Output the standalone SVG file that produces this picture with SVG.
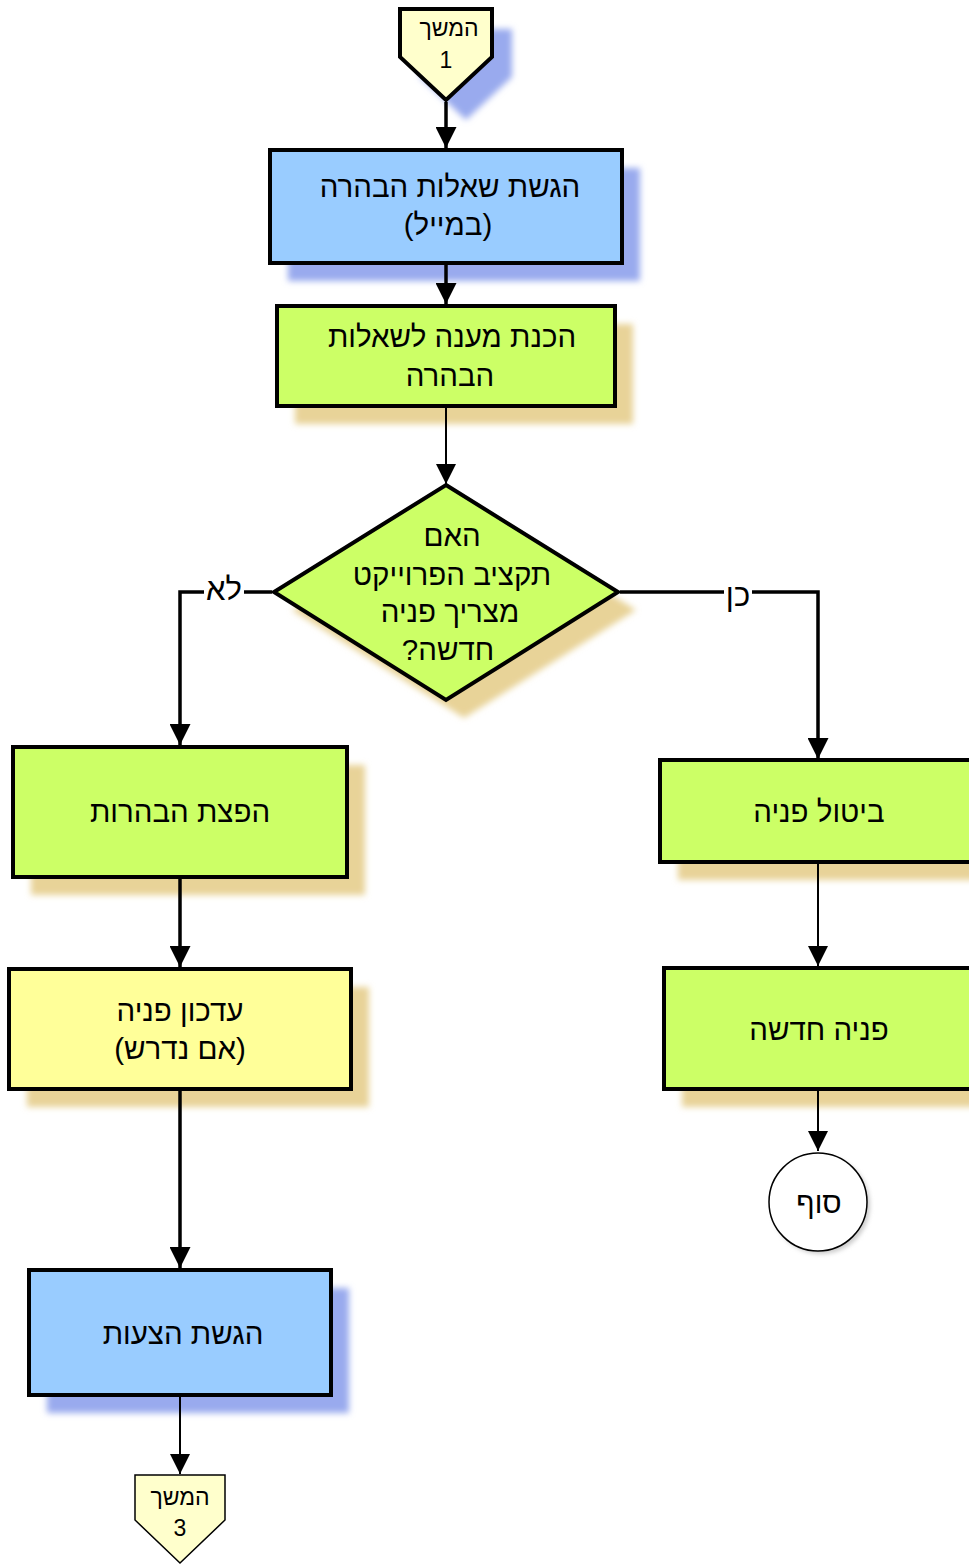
<svg xmlns="http://www.w3.org/2000/svg" width="969" height="1565" viewBox="0 0 969 1565">
<style>
.t{font-family:"Liberation Sans","DejaVu Sans",sans-serif;font-size:29.5px;fill:#000;text-anchor:middle;direction:rtl}
.s{font-size:23px}
.b{stroke:#000;stroke-width:4}
.thin{stroke:#000;stroke-width:1.5}
.c{fill:none;stroke:#000;stroke-width:3.5}
.c2{fill:none;stroke:#000;stroke-width:2}
.blue{fill:#99ccff}
.green{fill:#ccff66}
.yel{fill:#ffff99}
.pale{fill:#ffffcc}
.shb{fill:#99aaee;filter:url(#blur)}
.sht{fill:#e8d398;filter:url(#blur)}
.shg{fill:#cccccc;filter:url(#blur2)}
</style>
<defs>
<filter id="blur" x="-20%" y="-20%" width="140%" height="140%"><feGaussianBlur stdDeviation="3"/></filter>
<filter id="blur2" x="-20%" y="-20%" width="140%" height="140%"><feGaussianBlur stdDeviation="2"/></filter>
<marker id="ah" viewBox="0 0 10 10" refX="10" refY="5" markerWidth="6" markerHeight="6" markerUnits="strokeWidth" orient="auto"><path d="M0,0L10,5L0,10z" fill="#000"/></marker>
<marker id="ah2" viewBox="0 0 10 10" refX="10" refY="5" markerWidth="10" markerHeight="10" markerUnits="strokeWidth" orient="auto"><path d="M0,0L10,5L0,10z" fill="#000"/></marker>
</defs>

<g id="cont1">
<path class="shb" d="M420,29H512V77L466,120L420,77Z"/>
<path class="pale b" d="M400,9H492V57L446,100L400,57Z"/>
<text class="t s" x="449" y="36">המשך</text>
<text class="t s" x="446" y="68">1</text>
</g>

<g id="n1">
<rect class="shb" x="288" y="168" width="352" height="113"/>
<rect class="blue b" x="270" y="150" width="352" height="113"/>
<text class="t" x="450" y="197">הגשת שאלות הבהרה</text>
<text class="t" x="448" y="235">(במייל)</text>
</g>

<g id="n2">
<rect class="sht" x="295" y="324" width="338" height="100"/>
<rect class="green b" x="277" y="306" width="338" height="100"/>
<text class="t" x="452" y="347">הכנת מענה לשאלות</text>
<text class="t" x="450" y="386">הבהרה</text>
</g>

<g id="decision">
<path class="sht" d="M464,503L636,610L464,718L292,610Z"/>
<path class="green b" d="M446,485L618,592L446,700L274,592Z"/>
<text class="t" x="452" y="546">האם</text>
<text class="t" x="452" y="585">תקציב הפרוייקט</text>
<text class="t" x="450" y="622">מצריך פניה</text>
<text class="t" x="448" y="660">חדשה?</text>
</g>

<g id="n3">
<rect class="sht" x="31" y="765" width="334" height="130"/>
<rect class="green b" x="13" y="747" width="334" height="130"/>
<text class="t" x="180" y="822">הפצת הבהרות</text>
</g>

<g id="n4">
<rect class="sht" x="27" y="987" width="342" height="120"/>
<rect class="yel b" x="9" y="969" width="342" height="120"/>
<text class="t" x="180" y="1021">עדכון פניה</text>
<text class="t" x="180" y="1059">(אם נדרש)</text>
</g>

<g id="n5">
<rect class="shb" x="47" y="1288" width="302" height="125"/>
<rect class="blue b" x="29" y="1270" width="302" height="125"/>
<text class="t" x="183" y="1344">הגשת הצעות</text>
</g>

<g id="cont3">
<path class="pale thin" d="M135,1475H225V1520L180,1563L135,1520Z"/>
<text class="t s" x="180" y="1505">המשך</text>
<text class="t s" x="180" y="1536">3</text>
</g>

<g id="n6">
<rect class="sht" x="678" y="778" width="320" height="102"/>
<rect class="green b" x="660" y="760" width="320" height="102"/>
<text class="t" x="819" y="822">ביטול פניה</text>
</g>

<g id="n7">
<rect class="sht" x="682" y="986" width="320" height="121"/>
<rect class="green b" x="664" y="968" width="320" height="121"/>
<text class="t" x="819" y="1040">פניה חדשה</text>
</g>

<g id="end">
<circle class="shg" cx="821" cy="1205" r="49"/>
<circle cx="818" cy="1202" r="49" fill="#fff" class="thin"/>
<text class="t" x="819" y="1213">סוף</text>
</g>

<g id="connectors">
<path class="c" d="M446,102V148" marker-end="url(#ah)"/>
<path class="c" d="M446,265V304" marker-end="url(#ah)"/>
<path class="c2" d="M446,408V484" marker-end="url(#ah2)"/>
<path class="c" d="M272,592H180V745" marker-end="url(#ah)"/>
<path class="c" d="M620,592H818V759" marker-end="url(#ah)"/>
<path class="c" d="M180,879V967" marker-end="url(#ah)"/>
<path class="c" d="M180,1091V1268" marker-end="url(#ah)"/>
<path class="c2" d="M180,1397V1474" marker-end="url(#ah2)"/>
<path class="c2" d="M818,864V966" marker-end="url(#ah2)"/>
<path class="c2" d="M818,1091V1151" marker-end="url(#ah2)"/>
<rect x="204" y="572" width="40" height="34" fill="#fff"/>
<rect x="724" y="574" width="28" height="38" fill="#fff"/>
<text class="t" x="224" y="600" style="font-size:31px">לא</text>
<text class="t" x="738" y="606" style="font-size:31px">כן</text>
</g>
</svg>
